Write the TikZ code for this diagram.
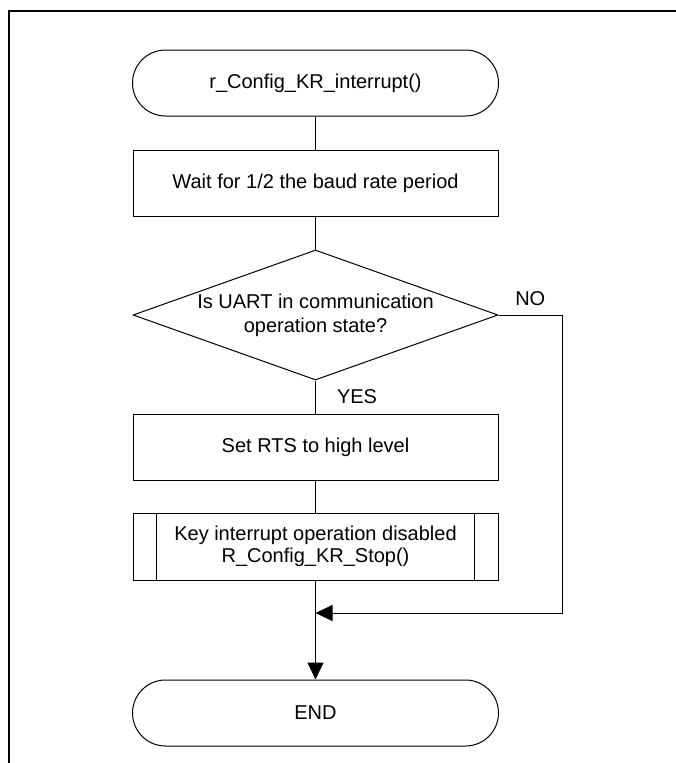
\documentclass[tikz,border=0pt]{standalone}
\usepackage{fontspec}
\setmainfont{Liberation Sans}
\usetikzlibrary{arrows.meta,shapes.geometric}

\begin{document}
\begin{tikzpicture}[x=1pt,y=-1pt,>={Triangle[length=17pt,width=16pt]},
  every node/.style={font=\fontsize{20}{24}\selectfont},
  line width=1pt,
  terminal/.style={draw,rectangle,rounded corners=33pt,minimum width=366pt,minimum height=66pt,inner sep=0pt},
  procbox/.style={draw,rectangle,minimum width=365pt,minimum height=66pt,inner sep=0pt},
  decision/.style={draw,diamond,aspect=2.8,minimum width=365pt,minimum height=130pt,inner sep=0pt,align=center},
  lbl/.style={inner sep=0pt}]
  \useasboundingbox (0,0) rectangle (676,763);
  \fill[white] (0,0) rectangle (676,763);
  \draw[line width=2pt] (9,763) -- (9,11) -- (676,11);

  \node[terminal] (start) at (315.5,83) {r\_Config\_KR\_interrupt()};
  \node[procbox] (wait) at (315.5,183) {Wait for 1/2 the baud rate period};
  \node[decision] (uart) at (315.5,315) {Is UART in communication\\operation state?};
  \node[procbox] (rts) at (315.5,447) {Set RTS to high level};
  \node[procbox,minimum height=67pt,align=center,font=\fontsize{20}{22.5}\selectfont] (sub) at (315.5,546.5)
    {Key interrupt operation disabled\\R\_Config\_KR\_Stop()};
  \draw ([xshift=24pt]sub.north west) -- ([xshift=24pt]sub.south west);
  \draw ([xshift=-24pt]sub.north east) -- ([xshift=-24pt]sub.south east);
  \node[terminal] (end) at (315.5,713) {END};

  \coordinate (noturn) at (562,315);
  \coordinate (merge) at (315.5,613);

  \draw (start) -- (wait);
  \draw (wait) -- (uart);
  \draw (uart) -- node[lbl,anchor=west,xshift=21pt] {YES} (rts);
  \draw (rts) -- (sub);
  \draw[->] (sub) -- (end);
  \draw[->] (uart.east) -- node[lbl,anchor=south,yshift=9pt] {NO} (noturn) |- (merge);
\end{tikzpicture}
\end{document}
